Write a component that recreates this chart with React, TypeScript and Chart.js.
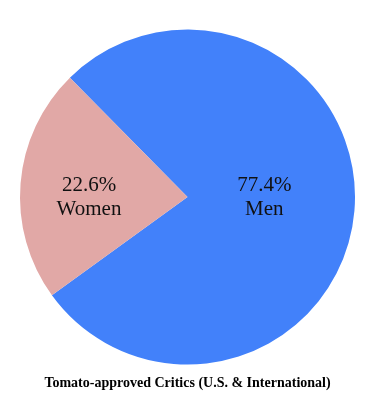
import React, { useEffect, useRef } from "react";
import { Chart, registerables } from "chart.js";

Chart.register(...registerables);

const categories = ["Men", "Women"];
const percentages = [77.4, 22.6];
const sliceColors = ["#4281FA", "#E1A8A6"];
const labelRadiusFractions = [0.46, 0.59];
const chartTitle = "Tomato-approved Critics (U.S. & International)";

const sliceLabelPlugin = {
  id: "sliceLabels",
  afterDatasetsDraw(chart: any) {
    const ctx = chart.ctx;
    const meta = chart.getDatasetMeta(0);
    ctx.save();
    ctx.font = '21px "Liberation Serif", "Times New Roman", serif';
    ctx.fillStyle = "#111";
    ctx.textAlign = "center";
    ctx.textBaseline = "middle";
    meta.data.forEach((arc: any, i: number) => {
      const p = arc.getProps(["x", "y", "startAngle", "endAngle", "outerRadius"], true);
      const mid = (p.startAngle + p.endAngle) / 2;
      const r = p.outerRadius * labelRadiusFractions[i];
      // horizontal placement along the slice's mid-angle, vertically centred on the pie
      const x = p.x + r * Math.cos(mid);
      const y = p.y;
      const lineH = 24;
      ctx.fillText(percentages[i].toFixed(1) + "%", x, y - lineH / 2);
      ctx.fillText(categories[i], x, y + lineH / 2);
    });
    ctx.restore();
  },
};

export default function App() {
  const canvasRef = useRef<HTMLCanvasElement | null>(null);

  useEffect(() => {
    if (!canvasRef.current) return;
    const chart = new Chart(canvasRef.current, {
      type: "pie",
      data: {
        labels: categories,
        datasets: [
          {
            data: percentages,
            backgroundColor: sliceColors,
            borderWidth: 0,
            hoverOffset: 0,
          },
        ],
      },
      options: {
        responsive: false,
        animation: false,
        devicePixelRatio: 1,
        rotation: -44.6,
        layout: { padding: { top: 29.5, left: 16, right: 20, bottom: 17.6 } },
        plugins: {
          legend: { display: false },
          tooltip: { enabled: false },
          title: {
            display: true,
            position: "bottom",
            text: chartTitle,
            color: "#000",
            font: { family: '"Liberation Serif", "Times New Roman", serif', size: 14, weight: "bold" },
            padding: { top: 10.1, bottom: 0 },
          },
        },
      },
      plugins: [sliceLabelPlugin],
    });
    return () => chart.destroy();
  }, []);

  return (
    <div style={{ position: "fixed", left: 0, top: 0, width: 379, height: 409, background: "#fff" }}>
      <canvas ref={canvasRef} width={379} height={409} style={{ display: "block" }} />
    </div>
  );
}
